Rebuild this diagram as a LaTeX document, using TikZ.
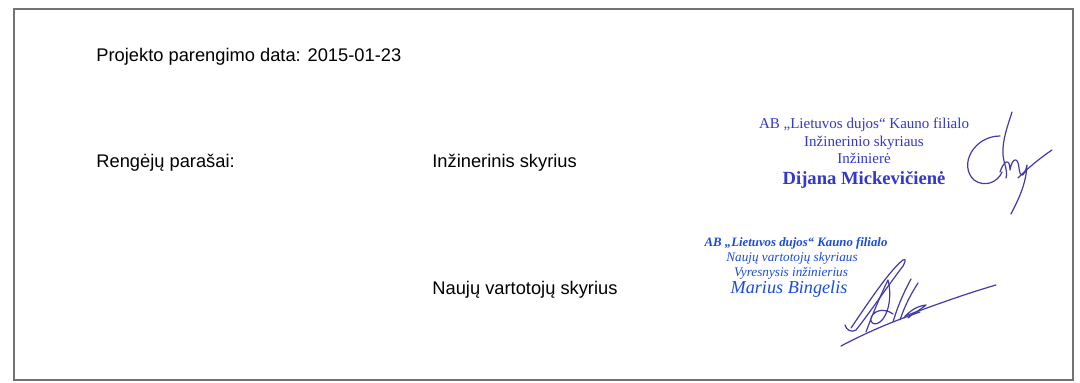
\documentclass[tikz,border=0pt]{standalone}
\usepackage{fontspec}
\setmainfont{Liberation Sans}
\newfontfamily\stampfont{Liberation Serif}
\usetikzlibrary{positioning}
\definecolor{framegray}{RGB}{115,115,115}
\definecolor{stampblue}{RGB}{50,55,205}
\definecolor{stampblue2}{RGB}{25,75,225}
\definecolor{inkblue}{RGB}{65,60,165}

\begin{document}
\begin{tikzpicture}[
    x=0.5pt, y=-0.5pt,
    field/.style={anchor=base west, inner sep=0pt, font=\fontsize{9.15}{11}\selectfont},
    stampA/.style={anchor=base, inner sep=0pt, text=stampblue, font=\stampfont\fontsize{7.5}{9}\selectfont},
    stampB/.style={anchor=base, inner sep=0pt, text=stampblue2, font=\stampfont\itshape\fontsize{6.6}{8}\selectfont},
    ink/.style={draw=inkblue, line width=0.6pt, line cap=round, line join=round}
]
    \useasboundingbox (0,0) rectangle (1080,383);
    % Frame
    \draw[framegray, line width=1pt] (14,9) rectangle (1073,380);

    % Texts
    \node[field] (date) at (96,62) {Projekto parengimo data: 2015-01-23};
    \node[field] (signs) at (96,168) {Rengėjų parašai:};
    \node[field] (eng) at (432,168) {Inžinerinis skyrius};
    \node[field] (newcust) at (432,295) {Naujų vartotojų skyrius};

    % Stamp of the engineering department
    \node[stampA] (stampA1) at (864,129) {AB „Lietuvos dujos“ Kauno filialo};
    \node[stampA] (stampA2) at (864,147) {Inžinerinio skyriaus};
    \node[stampA] (stampA3) at (864,164) {Inžinierė};
    \node[stampA, font=\stampfont\bfseries\fontsize{9.3}{11}\selectfont] (stampA4) at (864,185) {Dijana Mickevičienė};

    % Stamp of the new customers department
    \node[stampB, font=\stampfont\bfseries\itshape\fontsize{6.4}{8}\selectfont] (stampB1) at (796,247) {AB „Lietuvos dujos“ Kauno filialo};
    \node[stampB] (stampB2) at (792,262) {Naujų vartotojų skyriaus};
    \node[stampB] (stampB3) at (791,277) {Vyresnysis inžinierius};
    \node[stampB, font=\stampfont\itshape\fontsize{9.1}{11}\selectfont] (stampB4) at (789,294) {Marius Bingelis};

    % Signature 1
    \draw[ink] (1012,112) .. controls (1008,125) and (1002,140) .. (1003,155)
        .. controls (1004,165) and (1008,170) .. (1006,178);
    \draw[ink] (1000,136) .. controls (974,136) and (958,165) .. (974,180)
        .. controls (985,188) and (998,182) .. (1002,172);
    \draw[ink] (1000,172) .. controls (1004,160) and (1010,158) .. (1010,170)
        .. controls (1012,158) and (1018,156) .. (1019,168)
        .. controls (1020,178) and (1024,178) .. (1027,165)
        .. controls (1026,185) and (1018,200) .. (1011,214);
    \draw[ink] (1018,178) .. controls (1028,168) and (1040,158) .. (1052,150);

    % Signature 2
    \draw[ink] (851,328) .. controls (870,300) and (890,270) .. (903,260)
        .. controls (907,257) and (905,265) .. (900,270)
        .. controls (885,290) and (868,315) .. (856,330)
        .. controls (852,333) and (846,330) .. (845,325);
    \draw[ink] (866,332) .. controls (874,310) and (884,288) .. (888,280)
        .. controls (892,295) and (889,315) .. (880,322)
        .. controls (872,328) and (866,318) .. (876,312)
        .. controls (884,308) and (890,312) .. (893,314);
    \draw[ink] (893,322) .. controls (898,305) and (904,292) .. (911,279);
    \draw[ink] (900,320) .. controls (905,305) and (911,294) .. (918,283);
    \draw[ink] (904,318) .. controls (910,310) and (918,306) .. (926,305)
        .. controls (920,310) and (912,314) .. (908,318);
    \draw[ink] (905,316) .. controls (935,305) and (965,294) .. (996,285);
    \draw[ink] (841,346) .. controls (860,336) and (885,324) .. (920,312);
\end{tikzpicture}
\end{document}
